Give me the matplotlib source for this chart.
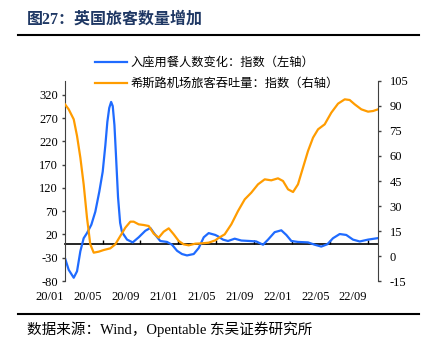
import numpy as np
import matplotlib.pyplot as plt
from matplotlib.lines import Line2D

# fonts: Times-like latin + CJK fallback
plt.rcParams['font.family'] = ['Liberation Serif', 'Noto Sans CJK SC']
plt.rcParams['axes.unicode_minus'] = False

# --------------------------
# Data (x = months since 2020-01-01)
# --------------------------
diners_t = [1.58, 1.97, 2.5, 2.85, 3.2, 3.55, 3.9, 4.36, 4.78, 5.2, 5.56, 5.84, 6.05, 6.25,
            6.45, 6.62, 6.8, 6.95, 7.18, 7.4, 7.6, 8.13, 8.73, 9.36, 10.06, 10.59, 11.12,
            11.64, 12.35, 12.88, 13.41, 13.93, 14.46, 15.17, 15.7, 16.23, 16.75, 17.45,
            17.74, 18.26, 18.79, 19.5, 20.2, 21.08, 21.78, 22.49, 23.02, 23.72, 24.42,
            24.95, 25.48, 26.18, 27.24, 27.95, 28.64, 29.28, 29.88, 30.59, 31.28, 31.99,
            32.7, 33.58, 34.56]
diners_idx = [-31, -56, -73, -59, -16, 12, 23, 41, 69, 112, 155, 212, 262, 292,
              305, 296, 255, 195, 100, 45, 25, 9, 3, 14, 28, 34, 19,
              6, 4, -2, -15, -22, -25, -22, -9, 14, 23, 19,
              16, 9, 6, 11, 7, 6, 5, -2, 9, 25, 29,
              19, 6, 4, 3, -2, -6, -1, 12, 21, 19, 9,
              5, 9, 12]

heathrow_t = [1.58, 1.97, 2.5, 2.85, 3.2, 3.55, 3.9, 4.25, 4.61, 5.14, 5.67, 6.36, 6.89,
              7.42, 7.95, 8.48, 8.83, 9.36, 9.89, 10.42, 10.95, 11.47, 12.0, 12.53, 13.06,
              13.59, 14.11, 14.64, 15.34, 16.05, 16.75, 17.45, 17.74, 18.44, 19.14, 19.85,
              20.56, 21.25, 21.96, 22.67, 23.36, 24.07, 24.6, 25.13, 25.66, 26.18, 26.71,
              27.24, 27.77, 28.3, 29.0, 29.7, 30.41, 31.12, 31.64, 32.17, 32.87, 33.58,
              34.11, 34.63]
heathrow_idx = [91, 88, 82, 72, 59, 43, 23, 7, 2, 2.6, 3.6, 4.6, 7,
                12, 17, 20.6, 20.6, 19, 18.6, 18, 13.4, 11, 14.6, 16.6, 13,
                9, 7, 6.4, 7.4, 7.6, 8, 9.4, 10.6, 13, 19, 27,
                34, 38, 43, 46, 45.4, 46.6, 45, 40, 38.4, 43, 53,
                63, 71, 76, 79, 86, 91.4, 94, 93.6, 91, 88, 86.6,
                87, 88]

tick_labels = ['20/01', '20/05', '20/09', '21/01', '21/05', '21/09', '22/01', '22/05', '22/09']
label_pos = [0, 4, 8, 12, 16, 20, 24, 28, 32]
tick_marks = [5.55, 9.55, 13.55, 17.55, 21.55, 25.55, 29.55, 33.55]

blue = '#1F6BFF'
orange = '#FF9C00'
axis_col = '#404040'

fig = plt.figure(figsize=(4.34, 3.54), dpi=100)
ax = fig.add_axes([0.1498, 0.2062, 0.7205, 0.5650])
ax2 = ax.twinx()

l1, = ax.plot(diners_t, diners_idx, color=blue, lw=1.6, solid_joinstyle='round')
l2, = ax2.plot(heathrow_t, heathrow_idx, color=orange, lw=1.6, solid_joinstyle='round')

ax.set_xlim(1.58, 34.6)
ax.set_ylim(-80, 350)
ax2.set_ylim(-15, 105)
ax.set_yticks(np.arange(-80, 321, 50))
ax2.set_yticks(np.arange(-15, 106, 15))
ax.set_xticks([])

for a in (ax, ax2):
    a.spines['top'].set_visible(False)
    a.spines['bottom'].set_visible(False)
ax.spines['right'].set_visible(False)
ax2.spines['left'].set_visible(False)
ax.spines['left'].set_color(axis_col)
ax2.spines['right'].set_color(axis_col)
ax.tick_params(axis='y', direction='out', length=2.5, width=1, pad=2.5,
               colors=axis_col, labelcolor='black', labelsize=9)
ax2.tick_params(axis='y', direction='out', length=2.5, width=1, pad=6,
                colors=axis_col, labelcolor='black', labelsize=9)

# zero line with small tick marks
zero_pos = (0 - (-80)) / (350 - (-80))
sec = ax.secondary_xaxis(zero_pos)
sec.set_xticks(tick_marks)
sec.set_xticklabels([])
sec.tick_params(direction='in', length=3, width=1, colors='black')
sec.spines['bottom'].set_color('black')
sec.spines['bottom'].set_linewidth(1.2)

for p, lab in zip(label_pos, tick_labels):
    ax.text(p, -0.078, lab, transform=ax.get_xaxis_transform(), ha='center', va='center',
            fontsize=9, clip_on=False)

fig.legend([l1, l2], ['入座用餐人数变化：指数（左轴）', '希斯路机场旅客吞吐量：指数（右轴）'],
           loc='upper left', bbox_to_anchor=(95 / 434, 1 - 57 / 354), frameon=False,
           fontsize=8.8, handlelength=2.6, handletextpad=0.3, labelspacing=0.75,
           borderpad=0, borderaxespad=0)

# title, rules and source
fig.text(27 / 434, 1 - 20 / 354, '图27：英国旅客数量增加', fontsize=11.5, fontweight='bold',
         color='#1F3864', va='center', ha='left')
fig.add_artist(Line2D([18 / 434, 419 / 434], [1 - 35 / 354] * 2, color='black', lw=1.5))
fig.add_artist(Line2D([18 / 434, 419 / 434], [1 - 313.5 / 354] * 2, color='black', lw=1.5))
fig.text(27 / 434, 1 - 329 / 354, '数据来源：Wind，Opentable 东吴证券研究所', fontsize=10.5,
         color='black', va='center', ha='left')

fig.savefig('out.png', dpi=100)
